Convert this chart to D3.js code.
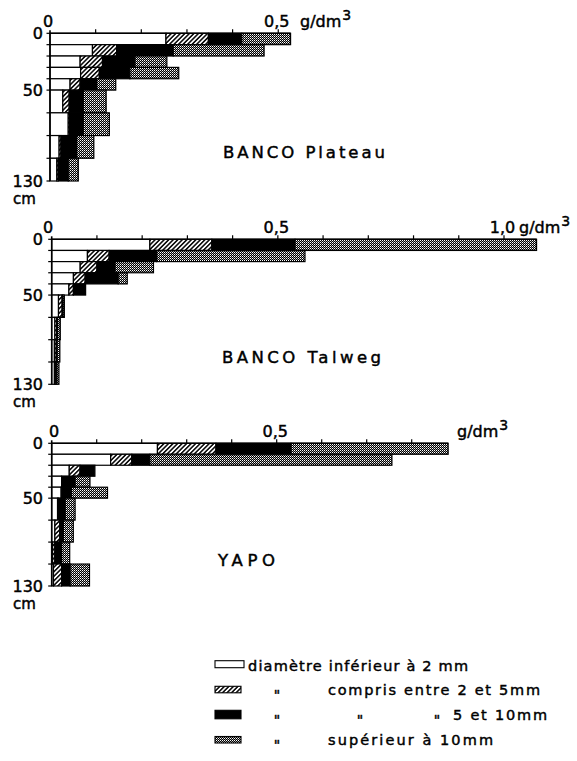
<!DOCTYPE html>
<html><head><meta charset="utf-8">
<script src="https://cdn.jsdelivr.net/npm/d3@7/dist/d3.min.js"></script>
<style>body{margin:0;background:#fff}svg{display:block}</style>
</head><body><svg id="c" width="577" height="761"></svg>
<script>
// ---------- data ----------
const depthTop    = [0, 10, 20, 30, 40, 50, 70, 90, 110];
const depthBottom = [10, 20, 30, 40, 50, 70, 90, 110, 130];
const depthTicks  = [0, 10, 20, 30, 40, 50, 70, 90, 110, 130];
const depthLabelValues = [0, 50, 130];
const depthLabels = ["0", "50", "130"];
const depthUnit = "cm";
const massUnit = "g/dm";
const massUnitExp = "3";

// four size classes (g/dm3), per depth layer
const plateauFine   = [0.254, 0.093, 0.066, 0.067, 0.044, 0.028, 0.040, 0.020, 0.015];
const plateauSmall  = [0.093, 0.053, 0.049, 0.041, 0.022, 0.014, 0.003, 0.004, 0.003];
const plateauMedium = [0.073, 0.124, 0.071, 0.067, 0.036, 0.031, 0.030, 0.034, 0.022];
const plateauCoarse = [0.107, 0.199, 0.070, 0.107, 0.042, 0.050, 0.057, 0.038, 0.022];

const talwegFine   = [0.217, 0.079, 0.063, 0.048, 0.038, 0.015, 0.007, 0.006, 0.006];
const talwegSmall  = [0.137, 0.048, 0.037, 0.026, 0.010, 0.008, 0.004, 0.004, 0.003];
const talwegMedium = [0.184, 0.105, 0.040, 0.073, 0.027, 0.002, 0.002, 0.002, 0.002];
const talwegCoarse = [0.534, 0.328, 0.085, 0.020, 0.000, 0.003, 0.006, 0.006, 0.005];

const yapoFine   = [0.235, 0.131, 0.039, 0.022, 0.021, 0.013, 0.007, 0.002, 0.004];
const yapoSmall  = [0.130, 0.047, 0.024, 0.000, 0.000, 0.002, 0.011, 0.005, 0.018];
const yapoMedium = [0.167, 0.040, 0.033, 0.030, 0.023, 0.015, 0.008, 0.015, 0.019];
const yapoCoarse = [0.349, 0.538, 0.000, 0.033, 0.080, 0.022, 0.022, 0.018, 0.043];

const plateauTicks = [0.1, 0.2, 0.3, 0.4, 0.5];
const talwegTicks  = [0.1, 0.2, 0.3, 0.4, 0.5, 0.6, 0.7, 0.8, 0.9, 1.0];
const yapoTicks    = [0.1, 0.2, 0.3, 0.4, 0.5, 0.6, 0.7, 0.8];

const plateauTickLabelValues = [0, 0.5];
const plateauTickLabels = ["0", "0,5"];
const talwegTickLabelValues = [0, 0.5, 1.0];
const talwegTickLabels = ["0", "0,5", "1,0"];
const yapoTickLabelValues = [0, 0.5];
const yapoTickLabels = ["0", "0,5"];

const panelTitles = ["BANCO Plateau", "BANCO Talweg", "YAPO"];

const legendLabels = ["diamètre inférieur à 2 mm", "compris entre 2 et 5mm", "5 et 10mm", "supérieur à 10mm"];
const dittoMark = "\"";

// ---------- layout ----------
const panels = [
  { title: panelTitles[0], series: [plateauFine, plateauSmall, plateauMedium, plateauCoarse],
    ticks: plateauTicks, tlv: plateauTickLabelValues, tl: plateauTickLabels,
    x0: 50, unitPx: 456.5, yTop: 33.3, yBot: 181, zeroDx: -2,
    unitX: 300, unitY: 27, titleX: 223, titleY: 158, titleW: 162 },
  { title: panelTitles[1], series: [talwegFine, talwegSmall, talwegMedium, talwegCoarse],
    ticks: talwegTicks, tlv: talwegTickLabelValues, tl: talwegTickLabels,
    x0: 51.7, unitPx: 452.3, yTop: 239.3, yBot: 384.3, zeroDx: -3.5,
    unitX: 519, unitY: 233, titleX: 222, titleY: 363, titleW: 159 },
  { title: panelTitles[2], series: [yapoFine, yapoSmall, yapoMedium, yapoCoarse],
    ticks: yapoTicks, tlv: yapoTickLabelValues, tl: yapoTickLabels,
    x0: 51.7, unitPx: 450, yTop: 443.3, yBot: 586, zeroDx: 2.5,
    unitX: 457, unitY: 437, titleX: 218, titleY: 566, titleW: 57 }
];

const FONT = "'DejaVu Sans', sans-serif";
const TSTROKE = 0.45;
const svg = d3.select("#c");
const defs = svg.append("defs");

// patterns
const hatch = defs.append("pattern").attr("id", "hatch").attr("patternUnits", "userSpaceOnUse")
  .attr("width", 3.2).attr("height", 3.2).attr("patternTransform", "rotate(45)");
hatch.append("rect").attr("width", 3.2).attr("height", 3.2).attr("fill", "#fff");
hatch.append("line").attr("x1", 0.8).attr("y1", 0).attr("x2", 0.8).attr("y2", 3.2)
  .attr("stroke", "#000").attr("stroke-width", 1.5);

const dots = defs.append("pattern").attr("id", "dots").attr("patternUnits", "userSpaceOnUse")
  .attr("width", 2).attr("height", 2);
dots.append("rect").attr("width", 2).attr("height", 2).attr("fill", "#000");
dots.append("rect").attr("x", 0).attr("y", 0).attr("width", 1).attr("height", 1).attr("fill", "#fff");
dots.append("rect").attr("x", 1).attr("y", 1).attr("width", 1).attr("height", 1).attr("fill", "#999");

const fills = ["#fff", "url(#hatch)", "#000", "url(#dots)"];

function styleText(sel, size) {
  return sel.attr("font-family", FONT).attr("font-size", size)
    .attr("fill", "#000").attr("stroke", "#000").attr("stroke-width", TSTROKE);
}

panels.forEach(p => {
  const x = d3.scaleLinear().domain([0, 1]).range([p.x0, p.x0 + p.unitPx]);
  const y = d3.scaleLinear().domain([0, 130]).range([p.yTop, p.yBot]);
  const g = svg.append("g");

  // stacked rows
  const rows = depthTop.map((d, i) => {
    let acc = 0;
    return p.series.map((s, k) => {
      const seg = { k, x0: acc, x1: acc + s[i], top: depthTop[i], bot: depthBottom[i] };
      acc += s[i];
      return seg;
    });
  });
  const segs = rows.flat().filter(s => s.x1 - s.x0 > 0);
  g.selectAll("rect.seg").data(segs).join("rect").attr("class", "seg")
    .attr("x", s => x(s.x0)).attr("width", s => x(s.x1) - x(s.x0))
    .attr("y", s => y(s.top)).attr("height", s => y(s.bot) - y(s.top))
    .attr("fill", s => fills[s.k]).attr("stroke", "#000").attr("stroke-width", 1.2);

  // x axis (top)
  const total0 = d3.sum(p.series, s => s[0]);
  const xEnd = Math.max(x(total0), x(d3.max(p.ticks)));
  g.append("line").attr("x1", p.x0).attr("x2", xEnd).attr("y1", p.yTop).attr("y2", p.yTop)
    .attr("stroke", "#000").attr("stroke-width", 1.5);
  g.selectAll("line.xt").data(p.ticks).join("line").attr("class", "xt")
    .attr("x1", d => x(d)).attr("x2", d => x(d)).attr("y1", p.yTop).attr("y2", p.yTop - 4)
    .attr("stroke", "#000").attr("stroke-width", 1.2);

  // y axis
  g.append("line").attr("x1", p.x0).attr("x2", p.x0).attr("y1", p.yTop - 3).attr("y2", y(130))
    .attr("stroke", "#000").attr("stroke-width", 1.6);
  g.selectAll("line.yt").data(depthTicks).join("line").attr("class", "yt")
    .attr("x1", p.x0 - 3.5).attr("x2", p.x0).attr("y1", d => y(d)).attr("y2", d => y(d))
    .attr("stroke", "#000").attr("stroke-width", 1.2);

  // depth labels
  styleText(g.selectAll("text.yl").data(depthLabelValues).join("text").attr("class", "yl")
    .attr("x", 43).attr("y", d => y(d) + 6).attr("text-anchor", "end"), 16)
    .text((d, i) => depthLabels[i]);
  styleText(g.append("text").attr("x", 13).attr("y", y(130) + 23), 15).text(depthUnit);

  // top labels
  styleText(g.selectAll("text.xl").data(p.tlv).join("text").attr("class", "xl")
    .attr("x", d => d === 0 ? x(d) + p.zeroDx : x(d) - 1.5)
    .attr("y", p.yTop - 6.5).attr("text-anchor", "middle"), 16)
    .text((d, i) => p.tl[i]);
  const ut = styleText(g.append("text").attr("x", p.unitX).attr("y", p.unitY), 16);
  ut.append("tspan").text(massUnit);
  ut.append("tspan").attr("dy", -7).attr("dx", 1).attr("font-size", 14).text(massUnitExp);

  // title
  styleText(g.append("text").attr("x", p.titleX).attr("y", p.titleY), 16.5)
    .attr("textLength", p.titleW).attr("lengthAdjust", "spacing")
    .text(p.title);
});

// ---------- legend ----------
const legend = svg.append("g");
const legRows = [
  { box: [215, 660.7, 29, 7], text: legendLabels[0], tx: 248, ty: 670.5, tw: 220, dittos: [] },
  { box: [215, 686.3, 26, 6.5], text: legendLabels[1], tx: 328, ty: 695, tw: 212, dittos: [277] },
  { box: [215, 710.3, 26, 8.5], text: legendLabels[2], tx: 453, ty: 720, tw: 94, dittos: [277, 360, 437] },
  { box: [215, 736.5, 26, 6.5], text: legendLabels[3], tx: 328, ty: 745, tw: 165, dittos: [277] }
];
legRows.forEach((r, i) => {
  legend.append("rect").attr("x", r.box[0]).attr("y", r.box[1]).attr("width", r.box[2]).attr("height", r.box[3])
    .attr("fill", fills[i]).attr("stroke", "#000").attr("stroke-width", 1.1);
  styleText(legend.append("text").attr("x", r.tx).attr("y", r.ty), 14.5)
    .attr("textLength", r.tw).attr("lengthAdjust", "spacing").text(r.text);
  r.dittos.forEach(dx => {
    styleText(legend.append("text").attr("x", dx).attr("y", r.ty + 5).attr("text-anchor", "middle"), 14)
      .text(dittoMark);
  });
});
</script></body></html>
